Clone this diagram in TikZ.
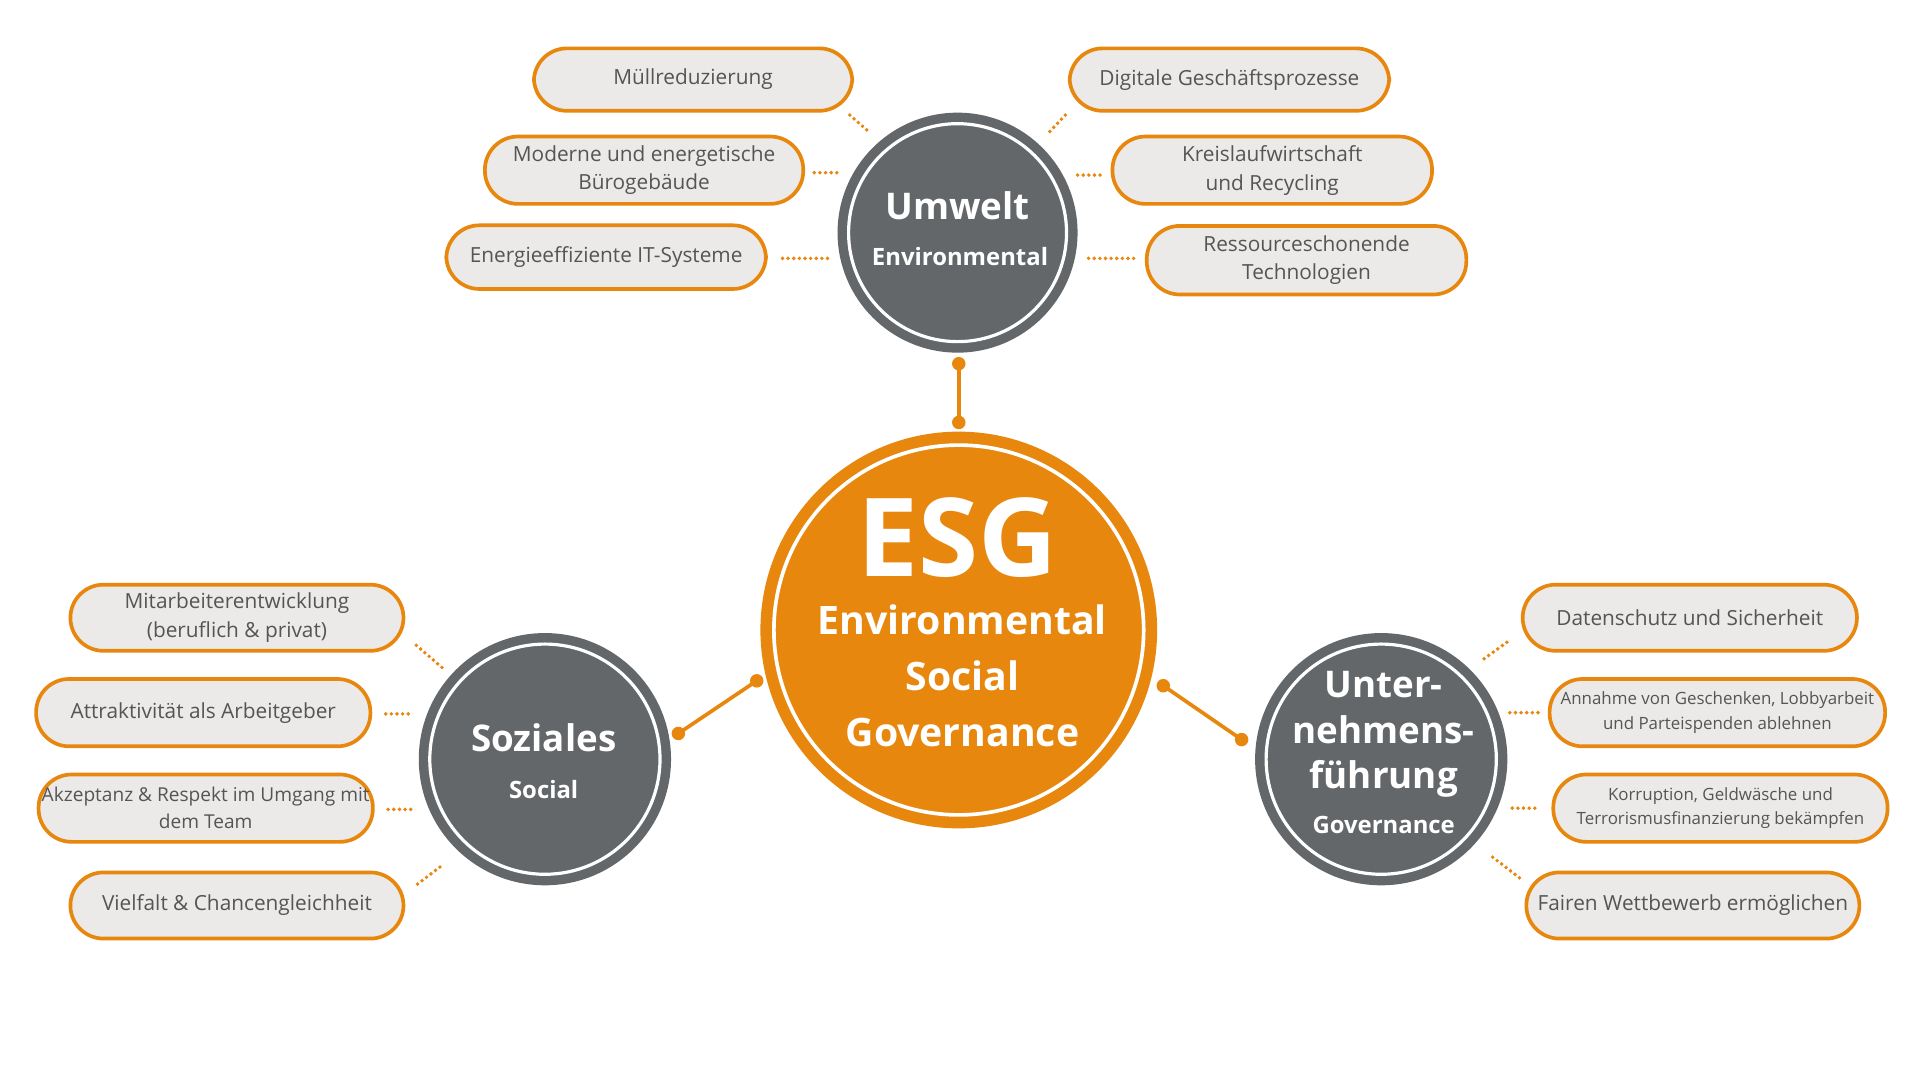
\documentclass[tikz,border=0pt]{standalone}
\usepackage{fontspec}
\setmainfont{Open Sans}
\usetikzlibrary{calc}
\definecolor{esgorange}{HTML}{E8870E}
\definecolor{esggray}{HTML}{63676A}
\definecolor{boxfill}{HTML}{ECE9E9}
\definecolor{boxtext}{HTML}{555555}
\tikzset{
  pill/.style={draw=esgorange, line width=3pt, fill=boxfill, text=boxtext, align=center,
    inner sep=0pt, rounded corners=27pt, font=\fontsize{17}{23.5}\selectfont},
  pillsmall/.style={pill, font=\fontsize{13.8}{20}\selectfont},
  pillmid/.style={pill, font=\fontsize{15.6}{22}\selectfont},
  hub/.style={circle, fill=esggray, inner sep=0pt},
  ring/.style={draw=white, line width=2.6pt},
  dotline/.style={draw=esgorange, line width=3.2pt, dash pattern=on 0pt off 4.6pt, line cap=round},
  link/.style={draw=esgorange, line width=3pt},
  linkdot/.style={fill=esgorange},
  bigtitle/.style={text=white, font=\bfseries\fontsize{30}{37}\selectfont, anchor=base, inner sep=0pt},
  subtitle/.style={text=white, font=\bfseries\fontsize{19.5}{24}\selectfont, anchor=base, inner sep=0pt},
  esgline/.style={text=white, font=\bfseries\fontsize{32}{46}\selectfont, anchor=base, inner sep=0pt},
}
\begin{document}
\begin{tikzpicture}[x=1pt,y=-1pt]
\fill[white] (0,0) rectangle (1568,882);
\useasboundingbox (0,0) rectangle (1568,882);

% hubs
\node[hub, minimum size=196pt] (umw) at (782,190) {};
\draw[ring] (umw.center) circle (89pt);
\node[hub, minimum size=206pt] (soz) at (445,620) {};
\draw[ring] (soz.center) circle (94pt);
\node[hub, minimum size=206pt] (gov) at (1128,620) {};
\draw[ring] (gov.center) circle (94pt);
\node[circle, fill=esgorange, inner sep=0pt, minimum size=324pt] (esg) at (783,514.5) {};
\draw[ring, line width=3pt] (esg.center) circle (151pt);

% hub texts
\node[bigtitle] (umwt) at (782,179) {Umwelt};
\node[subtitle] (umws) at (784,217) {Environmental};
\node[bigtitle] (sozt) at (444,614) {Soziales};
\node[subtitle] (sozs) at (444,652) {Social};
\node[bigtitle] (govt1) at (1130,570) {Unter-};
\node[bigtitle] (govt2) at (1130,607) {nehmens-};
\node[bigtitle] (govt3) at (1130,644) {führung};
\node[subtitle] (govs) at (1130,681) {Governance};
\node[text=white, font=\bfseries\fontsize{89}{89}\selectfont, anchor=base, inner sep=0pt] (esgt) at (782,471) {ESG};
\node[esgline] (esg1) at (786,518) {Environmental};
\node[esgline] (esg2) at (786,564) {Social};
\node[esgline] (esg3) at (786,610) {Governance};

% main links
\coordinate (lu1) at ($(umw.center)+(1,107)$);
\coordinate (lu2) at ($(esg.center)+(0,-169.5)$);
\draw[link] (lu1) -- (lu2);
\fill[linkdot] (lu1) circle (5.5pt) (lu2) circle (5.5pt);
\coordinate (ls1) at ($(soz.center)+(109,-21)$);
\coordinate (ls2) at ($(esg.center)+(-165,41.5)$);
\draw[link] (ls1) -- (ls2);
\fill[linkdot] (ls1) circle (5.5pt) (ls2) circle (5.5pt);
\coordinate (lg1) at ($(esg.center)+(167,45.5)$);
\coordinate (lg2) at ($(gov.center)+(-114,-16)$);
\draw[link] (lg1) -- (lg2);
\fill[linkdot] (lg1) circle (5.5pt) (lg2) circle (5.5pt);

% environmental boxes
\node[pill, minimum width=260pt, minimum height=51pt] (m1) at (566,65) {Müllreduzierung};
\node[pill, minimum width=260pt, minimum height=55pt] (m2) at (526,139) {Moderne und energetische\\Bürogebäude};
\node[pill, minimum width=261pt, minimum height=52pt] (m3) at (495,210) {Energieeffiziente IT-Systeme};
\node[pill, minimum width=261pt, minimum height=51pt] (r1) at (1004,65) {Digitale Geschäftsprozesse};
\node[pill, minimum width=261pt, minimum height=55pt] (r2) at (1039,139) {Kreislaufwirtschaft\\und Recycling};
\node[pill, minimum width=261pt, minimum height=56pt] (r3) at (1067,212.5) {Ressourceschonende\\Technologien};

% social boxes
\node[pill, minimum width=272pt, minimum height=54pt] (s1) at (193.5,504.5) {Mitarbeiterentwicklung\\(beruflich \& privat)};
\node[pill, minimum width=273pt, minimum height=55pt] (s2) at (166,582) {Attraktivität als Arbeitgeber};
\node[pillmid, minimum width=273pt, minimum height=55pt] (s3) at (168,660) {Akzeptanz \& Respekt im Umgang mit\\dem Team};
\node[pill, minimum width=272pt, minimum height=54pt] (s4) at (193.5,739.5) {Vielfalt \& Chancengleichheit};

% governance boxes
\node[pill, minimum width=273pt, minimum height=54pt] (g1) at (1380,504.5) {Datenschutz und Sicherheit};
\node[pillsmall, minimum width=274pt, minimum height=55pt] (g2) at (1402.5,582) {Annahme von Geschenken, Lobbyarbeit\\und Parteispenden ablehnen};
\node[pillsmall, minimum width=273pt, minimum height=55pt] (g3) at (1405,660) {Korruption, Geldwäsche und\\Terrorismusfinanzierung bekämpfen};
\node[pill, minimum width=272pt, minimum height=54pt] (g4) at (1382.5,739.5) {Fairen Wettbewerb ermöglichen};

% dotted connectors
\coordinate (dm1a) at (694,94);   \coordinate (dm1b) at (710,108);
\coordinate (dm2a) at (665,141);  \coordinate (dm2b) at (684,141);
\coordinate (dm3a) at (639,211);  \coordinate (dm3b) at (676,211);
\coordinate (dr1a) at (870,94);   \coordinate (dr1b) at (855,110);
\coordinate (dr2a) at (880,143);  \coordinate (dr2b) at (900,143);
\coordinate (dr3a) at (889,211);  \coordinate (dr3b) at (928,211);
\coordinate (ds1a) at (340,527);  \coordinate (ds1b) at (362,546);
\coordinate (ds2a) at (315,583);  \coordinate (ds2b) at (337,583);
\coordinate (ds3a) at (317,661);  \coordinate (ds3b) at (339,661);
\coordinate (ds4a) at (341,722);  \coordinate (ds4b) at (362,706);
\coordinate (dg1a) at (1212,538); \coordinate (dg1b) at (1234,522);
\coordinate (dg2a) at (1233,582); \coordinate (dg2b) at (1256,582);
\coordinate (dg3a) at (1235,660); \coordinate (dg3b) at (1257,660);
\coordinate (dg4a) at (1219,700); \coordinate (dg4b) at (1241,717);
\foreach \d in {dm1,dm2,dm3,dr1,dr2,dr3,ds1,ds2,ds3,ds4,dg1,dg2,dg3,dg4}
  \draw[dotline] (\d a) -- (\d b);
\end{tikzpicture}
\end{document}
